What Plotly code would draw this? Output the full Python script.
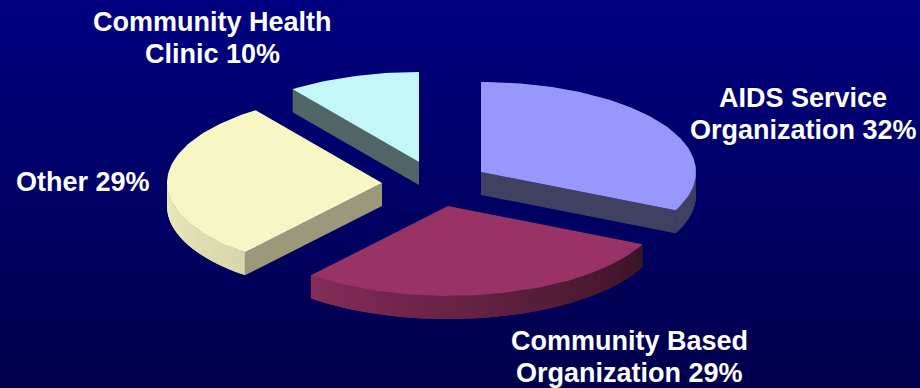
import math
import plotly.graph_objects as go

# Survey shares, clockwise from twelve o'clock
categories = ["AIDS Service Organization", "Community Based Organization", "Other", "Community Health Clinic"]
shares = [32, 29, 29, 10]
label_lines = [["AIDS Service", "Organization 32%"], ["Community Based", "Organization 29%"],
               ["Other 29%"], ["Community Health", "Clinic 10%"]]

# Slice styling and the pixel layout of the exploded pie
top_colors = [(152, 152, 252), (153, 51, 102), (247, 247, 198), (196, 248, 248)]
cut_colors = ["rgb(64,64,96)", None, "rgb(154,154,122)", "rgb(80,102,102)"]
apexes = [(481, 172), (448, 206), (382, 183), (419, 162)]
label_anchors = [(803, 114), (629, 357), (83, 182), (212, 38)]
LINE_STEP = 32
RX, RY, DEPTH = 215, 90, 23
BG_TOP, BG_BOTTOM = 128, 76


def rim(apex, deg, dy=0):
    t = math.radians(deg)
    return apex[0] + RX * math.sin(t), apex[1] - RY * math.cos(t) + dy


def shade(rgb, f):
    return "rgb(%d,%d,%d)" % tuple(round(c * f) for c in rgb)


def wall_factor(deg):
    # Light falls from the left, so the rim brightens going clockwise past the bottom
    stops = [(115, 0.38), (219.6, 0.87), (270, 0.95)]
    for (a0, f0), (a1, f1) in zip(stops, stops[1:]):
        if deg <= a1:
            return f0 + (f1 - f0) * (deg - a0) / (a1 - a0)
    return stops[-1][1]


def polygon(pts, color):
    xs, ys = zip(*pts)
    return go.Scatter(x=list(xs) + [xs[0]], y=list(ys) + [ys[0]], mode="lines", fill="toself",
                      fillcolor=color, hoverinfo="skip", showlegend=False, line=dict(color=color, width=0))


fig = go.Figure()

# Vertical background gradient as thin bands
bands = []
for y in range(0, 388, 2):
    blue = BG_TOP + (BG_BOTTOM - BG_TOP) * y / 388
    bands.append(dict(type="rect", xref="x", yref="y", x0=0, x1=920, y0=y, y1=y + 3, layer="below",
                      fillcolor="rgb(0,0,%d)" % round(blue), line_width=0))

start = 0.0
total = sum(shares)
for i, share in enumerate(shares):
    end = start + 360 * share / total
    apex, rgb = apexes[i], top_colors[i]
    cut_angle = end if end <= 180 else start

    # The one cut face turned towards the viewer; the second slice shows none
    if cut_colors[i]:
        fig.add_trace(polygon([apex, rim(apex, cut_angle), rim(apex, cut_angle, DEPTH),
                               (apex[0], apex[1] + DEPTH)], cut_colors[i]))

    # Curved outer wall: overlapping strips painted in order, so no seams show between them
    lo, hi = max(start, 90), min(end, 270)
    if lo < hi:
        n = max(2, int((hi - lo) / 1.5))
        step = (hi - lo) / n
        for k in range(n):
            a0 = lo + step * k
            a1 = min(hi, a0 + step * 3)
            arc = [a0 + (a1 - a0) * j / 3 for j in range(4)]
            wall = cut_colors[i] if hi <= 115.2 else shade(rgb, wall_factor(a0 + step / 2))
            fig.add_trace(polygon([rim(apex, a) for a in arc] + [rim(apex, a, DEPTH) for a in reversed(arc)], wall))

    # Top face
    steps = max(8, int((end - start) / 1.5))
    arc = [rim(apex, start + (end - start) * k / steps) for k in range(steps + 1)]
    fig.add_trace(polygon([apex] + arc, shade(rgb, 1)))
    start = end

# Each label line is placed on its own for tight leading
for (x, y), lines in zip(label_anchors, label_lines):
    y0 = y - LINE_STEP * (len(lines) - 1) / 2
    for j, line in enumerate(lines):
        fig.add_annotation(x=x, y=y0 + j * LINE_STEP, xref="x", yref="y", text=line, showarrow=False,
                           xanchor="center", yanchor="middle",
                           font=dict(family="Liberation Sans", size=27, color="white", weight="bold"))

fig.update_layout(width=920, height=388, margin=dict(l=0, r=0, t=0, b=0), shapes=bands,
                  paper_bgcolor="rgb(0,0,102)", plot_bgcolor="rgb(0,0,102)", showlegend=False,
                  xaxis=dict(range=[0, 920], visible=False, fixedrange=True),
                  yaxis=dict(range=[388, 0], visible=False, fixedrange=True))
fig.write_html("out.html", config=dict(displayModeBar=False))
